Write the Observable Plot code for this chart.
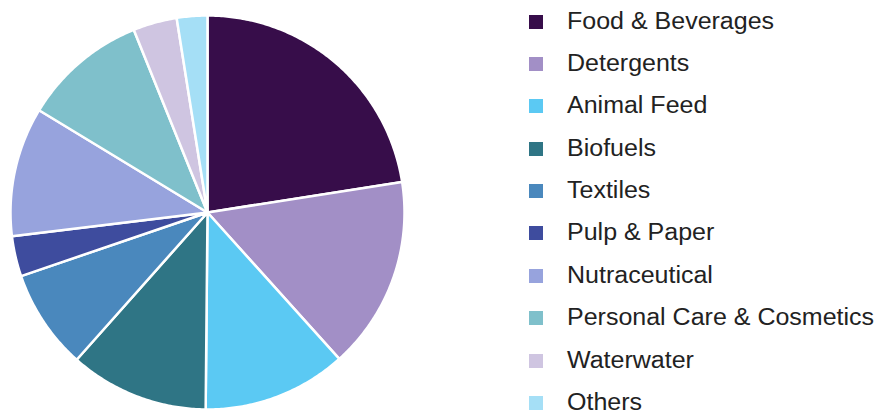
<!DOCTYPE html>
<html><head><meta charset="utf-8">
<script src="https://cdn.jsdelivr.net/npm/d3@7"></script>
<script src="https://cdn.jsdelivr.net/npm/@observablehq/plot@0.6"></script>
<style>
html,body{margin:0;padding:0;background:#fff}
body{width:876px;height:415px;overflow:hidden;position:relative;font-family:"Liberation Sans",Arial,sans-serif}
#chart{position:absolute;left:0;top:0}
.item{position:absolute;left:529px;height:28px;display:flex;align-items:center;white-space:nowrap}
.sw{width:14px;height:14px;flex:none}
.lab{margin-left:23.5px;font-size:23px;line-height:28px;color:#222;transform:translateY(-1px) scaleX(1.087);transform-origin:left center}
</style></head>
<body>
<div id="chart"></div>
<div id="legend"></div>
<script>
const categories = ["Food & Beverages","Detergents","Animal Feed","Biofuels","Textiles","Pulp & Paper","Nutraceutical","Personal Care & Cosmetics","Waterwater","Others"];
const shares = [22.5, 15.8, 11.8, 11.4, 8.2, 3.3, 10.6, 10.2, 3.6, 2.5];
const colors = ["#370d4a","#a28fc6","#5bc9f3","#2f7585","#4a88bd","#3e4c9e","#97a3dd","#7fc0cb","#cfc5e1","#a5dff6"];

// build slice polygons from the pie layout (clockwise from 12 o'clock)
const arcs = d3.pie().sort(null).value(d => d.v)(categories.map((c, i) => ({c, v: shares[i]})));
const pts = [];
for (const a of arcs) {
  pts.push({cat: a.data.c, x: 0, y: 0});
  const n = Math.max(8, Math.ceil((a.endAngle - a.startAngle) / 0.01));
  for (let k = 0; k <= n; k++) {
    const t = a.startAngle + (a.endAngle - a.startAngle) * k / n;
    pts.push({cat: a.data.c, x: Math.sin(t), y: Math.cos(t)});
  }
}

const R = 197, cx = 207, cy = 212, W = 420, H = 415;
const plot = Plot.plot({
  width: W, height: H,
  margin: 0,
  x: {domain: [-cx / R, (W - cx) / R], axis: null},
  y: {domain: [(cy - H) / R, cy / R], axis: null},
  color: {domain: categories, range: colors},
  marks: [
    Plot.line(pts, {x: "x", y: "y", z: "cat", fill: "cat", stroke: "#fff", strokeWidth: 2.5, strokeLinejoin: "round", curve: "linear-closed"})
  ]
});
document.getElementById("chart").appendChild(plot);

const legend = document.getElementById("legend");
const y0 = 21.6, dy = 42.37;
categories.forEach((c, i) => {
  const item = document.createElement("div");
  item.className = "item";
  item.style.top = (y0 + i * dy - 14) + "px";
  const sw = document.createElement("div");
  sw.className = "sw";
  sw.style.background = colors[i];
  const lab = document.createElement("span");
  lab.className = "lab";
  lab.textContent = c;
  item.appendChild(sw); item.appendChild(lab);
  legend.appendChild(item);
});
</script>
</body></html>
